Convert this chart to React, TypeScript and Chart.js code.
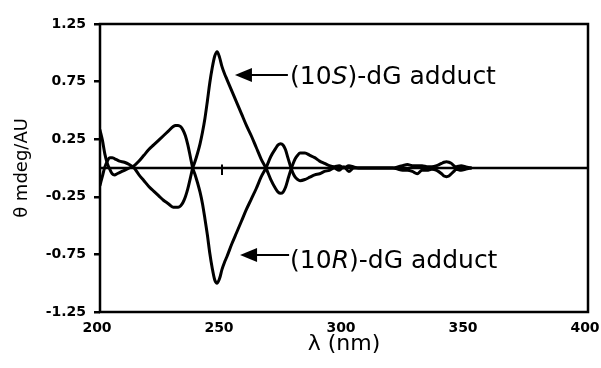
import { useEffect, useRef } from "react";
import { Chart, registerables } from "chart.js";

Chart.register(...registerables);

// Wavelengths (nm) sampled along both CD traces
const lambda = [
  200, 201, 202, 203, 204, 205, 206, 207, 208, 210, 212, 214, 216, 218, 220, 222, 224, 226, 228, 230,
  231, 232, 233, 234, 235, 236, 237, 238, 239, 240, 241, 242, 243, 244, 245, 246, 247, 248, 249, 250,
  251, 252, 254, 256, 258, 260, 262, 264, 266, 268, 270, 272, 273, 274, 275, 276, 277, 278, 279, 280,
  281, 282, 284, 286, 288, 290, 292, 294, 296, 298, 300, 302, 304, 306, 310, 315, 320, 322, 324, 326,
  328, 330, 332, 334, 336, 338, 340, 341, 342, 343, 344, 345, 346, 348, 350, 352,
];

// (10S)-dG adduct: positive band near 248 nm
const sAdduct = [
  -0.15, -0.07, 0.01, 0.06, 0.09, 0.09, 0.08, 0.07, 0.06, 0.05, 0.03, 0.0, -0.06, -0.11, -0.16, -0.2, -0.24, -0.28, -0.31, -0.34,
  -0.34, -0.34, -0.33, -0.3, -0.25, -0.18, -0.09, 0.0, 0.06, 0.13, 0.21, 0.31, 0.43, 0.58, 0.74, 0.87, 0.97, 1.01, 0.96, 0.88,
  0.82, 0.77, 0.67, 0.57, 0.47, 0.37, 0.28, 0.18, 0.08, 0.0, -0.1, -0.18, -0.21, -0.22, -0.21, -0.17, -0.1, -0.03, 0.03, 0.08,
  0.11, 0.13, 0.13, 0.11, 0.09, 0.06, 0.04, 0.02, 0.01, 0.02, 0.0, 0.02, 0.01, 0.0, 0.0, 0.0, 0.0, 0.01, 0.02, 0.03,
  0.02, 0.02, 0.02, 0.01, 0.01, 0.02, 0.04, 0.05, 0.055, 0.05, 0.04, 0.02, 0.01, 0.02, 0.01, 0.0,
];

// (10R)-dG adduct: negative band near 248 nm
const rAdduct = [
  0.33, 0.24, 0.12, 0.04, -0.01, -0.05, -0.06, -0.05, -0.04, -0.02, 0.0, 0.02, 0.06, 0.11, 0.16, 0.2, 0.24, 0.28, 0.32, 0.36,
  0.37, 0.37, 0.36, 0.33, 0.28, 0.2, 0.1, 0.0, -0.06, -0.13, -0.21, -0.31, -0.44, -0.58, -0.74, -0.87, -0.97, -1.0, -0.96, -0.88,
  -0.82, -0.77, -0.66, -0.56, -0.46, -0.36, -0.27, -0.18, -0.08, 0.0, 0.1, 0.17, 0.2, 0.21, 0.2, 0.16, 0.09, 0.02, -0.04, -0.08,
  -0.1, -0.11, -0.1, -0.08, -0.06, -0.05, -0.03, -0.02, 0.0, -0.02, 0.01, -0.03, 0.0, 0.0, 0.0, 0.0, 0.0, -0.01, -0.02, -0.02,
  -0.03, -0.05, -0.02, -0.02, -0.01, -0.02, -0.05, -0.07, -0.075, -0.07, -0.05, -0.03, -0.01, -0.02, -0.01, 0.0,
];

// zero baseline and its small tick mark
const baselineX = [200, 400];
const baselineY = [0, 0];
const markX = [250, 250];
const markY = [0.03, -0.06];

const xTicks = [200, 250, 300, 350, 400];
const xTickLabels = ["200", "250", "300", "350", "400"];
const yTicks = [-1.25, -0.75, -0.25, 0.25, 0.75, 1.25];
const yTickLabels = ["-1.25", "-0.75", "-0.25", "0.25", "0.75", "1.25"];

const xTitle = "λ (nm)";
const yTitle = "θ mdeg/AU";

const annotations = [
  { pre: "(10", ital: "S", post: ")-dG adduct", tipX: 255.3, tailX: 277.0, arrowY: 0.807, textX: 277.9, textY: 0.73 },
  { pre: "(10", ital: "R", post: ")-dG adduct", tipX: 257.4, tailX: 277.5, arrowY: -0.755, textX: 277.9, textY: -0.868 },
];

const FONT = "DejaVu Sans";
const ANN_SIZE = 25;

const framePlugin = {
  id: "frame",
  afterDatasetsDraw(chart: any) {
    const { ctx, chartArea: a } = chart;
    ctx.save();
    ctx.strokeStyle = "#000";
    ctx.lineWidth = 2.5;
    ctx.strokeRect(a.left, a.top, a.right - a.left, a.bottom - a.top);
    ctx.restore();
  },
};

const annotationPlugin = {
  id: "arrowLabels",
  afterDraw(chart: any) {
    const { ctx } = chart;
    const xs = chart.scales.x;
    const ys = chart.scales.y;
    ctx.save();
    ctx.fillStyle = "#000";
    ctx.strokeStyle = "#000";
    for (const an of annotations) {
      const tip = xs.getPixelForValue(an.tipX);
      const tail = xs.getPixelForValue(an.tailX);
      const ay = ys.getPixelForValue(an.arrowY);
      const headLen = 17;
      const headHalf = 7;
      ctx.lineWidth = 2;
      ctx.beginPath();
      ctx.moveTo(tip + headLen - 2, ay);
      ctx.lineTo(tail, ay);
      ctx.stroke();
      ctx.beginPath();
      ctx.moveTo(tip, ay);
      ctx.lineTo(tip + headLen, ay - headHalf);
      ctx.lineTo(tip + headLen, ay + headHalf);
      ctx.closePath();
      ctx.fill();

      let tx = xs.getPixelForValue(an.textX);
      const ty = ys.getPixelForValue(an.textY);
      ctx.textBaseline = "alphabetic";
      ctx.textAlign = "left";
      ctx.font = `${ANN_SIZE}px "${FONT}"`;
      ctx.fillText(an.pre, tx, ty);
      tx += ctx.measureText(an.pre).width;
      ctx.font = `italic ${ANN_SIZE}px "${FONT}"`;
      ctx.fillText(an.ital, tx, ty);
      tx += ctx.measureText(an.ital).width;
      ctx.font = `${ANN_SIZE}px "${FONT}"`;
      ctx.fillText(an.post, tx, ty);
    }
    ctx.restore();
  },
};

export default function App() {
  const ref = useRef<HTMLCanvasElement | null>(null);

  useEffect(() => {
    if (!ref.current) return;
    const curve = (ys: number[]) => lambda.map((x, i) => ({ x, y: ys[i] }));
    const chart = new Chart(ref.current, {
      type: "line",
      data: {
        datasets: [
          {
            label: "baseline",
            data: baselineX.map((x, i) => ({ x, y: baselineY[i] })),
            borderColor: "#000",
            borderWidth: 2.5,
            pointRadius: 0,
          },
          {
            label: "mark",
            data: markX.map((x, i) => ({ x, y: markY[i] })),
            borderColor: "#000",
            borderWidth: 2,
            pointRadius: 0,
          },
          {
            label: "(10S)-dG adduct",
            data: curve(sAdduct),
            borderColor: "#000",
            borderWidth: 3,
            pointRadius: 0,
            cubicInterpolationMode: "monotone",
            borderJoinStyle: "round",
            borderCapStyle: "round",
          },
          {
            label: "(10R)-dG adduct",
            data: curve(rAdduct),
            borderColor: "#000",
            borderWidth: 3,
            pointRadius: 0,
            cubicInterpolationMode: "monotone",
            borderJoinStyle: "round",
            borderCapStyle: "round",
          },
        ],
      },
      options: {
        animation: false,
        responsive: false,
        maintainAspectRatio: false,
        layout: { padding: { left: 0, right: 13, top: 24, bottom: 0 } },
        plugins: { legend: { display: false }, tooltip: { enabled: false } },
        scales: {
          x: {
            type: "linear",
            min: 200,
            max: 400,
            afterBuildTicks: (s: any) => {
              s.ticks = xTicks.map((v) => ({ value: v }));
            },
            afterFit: (s: any) => {
              s.height = 56;
              s.paddingLeft = 0;
              s.paddingRight = 0;
            },
            grid: { display: false, drawTicks: false },
            border: { display: false },
            ticks: {
              color: "#000",
              font: { family: FONT, weight: "bold", size: 14 },
              padding: 8,
              maxRotation: 0,
              autoSkip: false,
              labelOffset: -3,
              callback: (_v: any, i: number) => xTickLabels[i],
            },
            title: {
              display: true,
              text: xTitle,
              color: "#000",
              font: { family: FONT, size: 22 },
              padding: { top: 0, bottom: 11 },
            },
          },
          y: {
            type: "linear",
            min: -1.25,
            max: 1.25,
            afterBuildTicks: (s: any) => {
              s.ticks = yTicks.map((v) => ({ value: v }));
            },
            afterFit: (s: any) => {
              s.width = 100;
            },
            grid: {
              display: true,
              drawOnChartArea: false,
              drawTicks: true,
              tickLength: 6,
              color: "#000",
              lineWidth: 2.5,
            },
            border: { display: false },
            ticks: {
              color: "#000",
              font: { family: FONT, weight: "bold", size: 14 },
              padding: 8,
              autoSkip: false,
              callback: (_v: any, i: number) => yTickLabels[i],
            },
            title: {
              display: true,
              text: yTitle,
              color: "#000",
              font: { family: FONT, size: 18 },
              padding: { top: 12, bottom: 0 },
            },
          },
        },
      },
      plugins: [framePlugin, annotationPlugin],
    } as any);
    return () => chart.destroy();
  }, []);

  return (
    <div style={{ position: "fixed", left: 0, top: 0, width: 601, height: 368, background: "#fff" }}>
      <canvas ref={ref} width={601} height={368} style={{ width: 601, height: 368 }} />
    </div>
  );
}
